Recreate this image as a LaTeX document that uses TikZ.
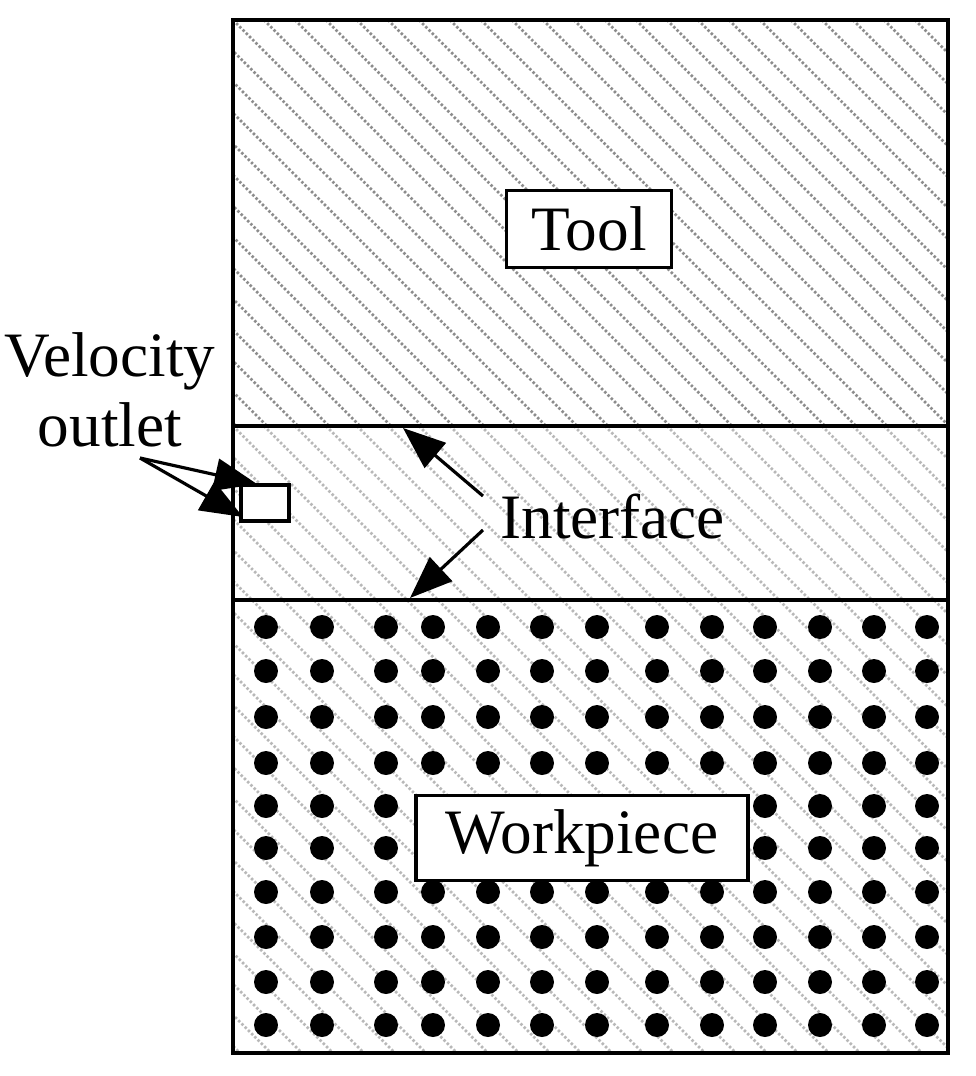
\documentclass[tikz,border=0pt]{standalone}
\usepackage{fontspec}
\setmainfont{Liberation Serif}
\usetikzlibrary{arrows.meta,positioning,calc}
\begin{document}
\begin{tikzpicture}[
        x=0.02cm, y=-0.02cm,
        frame/.style = {line width=2.2pt},% outline of the regions
        hatch/.style = {line width=1.6pt, dash pattern=on 1.4pt off 1.2pt, #1},
        hatch/.default = black!28,
        dot/.style = {circle, fill=black, inner sep=0pt, minimum size=0.48cm},
        label/.style = {draw, line width=1.8pt, fill=white, font=\fontsize{36}{40}\selectfont,
                        inner sep=0pt},
        txt/.style = {font=\fontsize{36}{40}\selectfont, align=center, inner sep=0pt},
        pointer/.style = {-{Triangle[length=0.85cm,width=0.65cm]}, line width=1.8pt},
        ]
\useasboundingbox (0,0) rectangle (975,1076);
% hatching of the three regions
\begin{scope}
    \clip (233,20) rectangle (948,426);
    \foreach \i in {-14,...,24}
        \draw[hatch=black!45] (233+\i*31,20) -- ++(420,420);
\end{scope}
\begin{scope}
    \clip (233,426) rectangle (948,1053);
    \foreach \i in {-22,...,24}
        \draw[hatch] (233+\i*31,426) -- ++(640,640);
\end{scope}
% dots of the workpiece
\foreach \y in {627,671,717,763,806,848,892,937,982,1025}
    \foreach \x in {266,322,386,433,488,542,597,657,712,765,820,874,927}
        \node[dot] at (\x,\y) {};
% regions
\draw[frame] (233,20) rectangle (948,1053);
\draw[frame] (233,426) coordinate (ifL) -- (948,426);
\draw[frame] (233,600) coordinate (wpL) -- (948,600);
\coordinate (ifTop) at (403,428);
\coordinate (ifBot) at (410,598);
% labels
\node[label, minimum width=3.3cm, minimum height=1.54cm] (tool) at (589,229) {Tool};
\node[label, minimum width=6.64cm, minimum height=1.7cm] (work) at (582,838) {Workpiece};
\node[draw, line width=2.2pt, fill=white, minimum width=0.95cm, minimum height=0.72cm,
      inner sep=0pt] (outlet) at (265,503) {};
\node[txt, anchor=west] (iface) at (500,517) {Interface};
\node[txt] (vel) at (110,390) {Velocity\\outlet};
% pointers
\coordinate (vs) at (140,458);
\draw[pointer] (vs) -- (257,484);
\draw[pointer] (vs) -- (243,517);
\draw[pointer] (483,496) -- (ifTop);
\draw[pointer] (483,530) -- (ifBot);
\end{tikzpicture}
\end{document}
